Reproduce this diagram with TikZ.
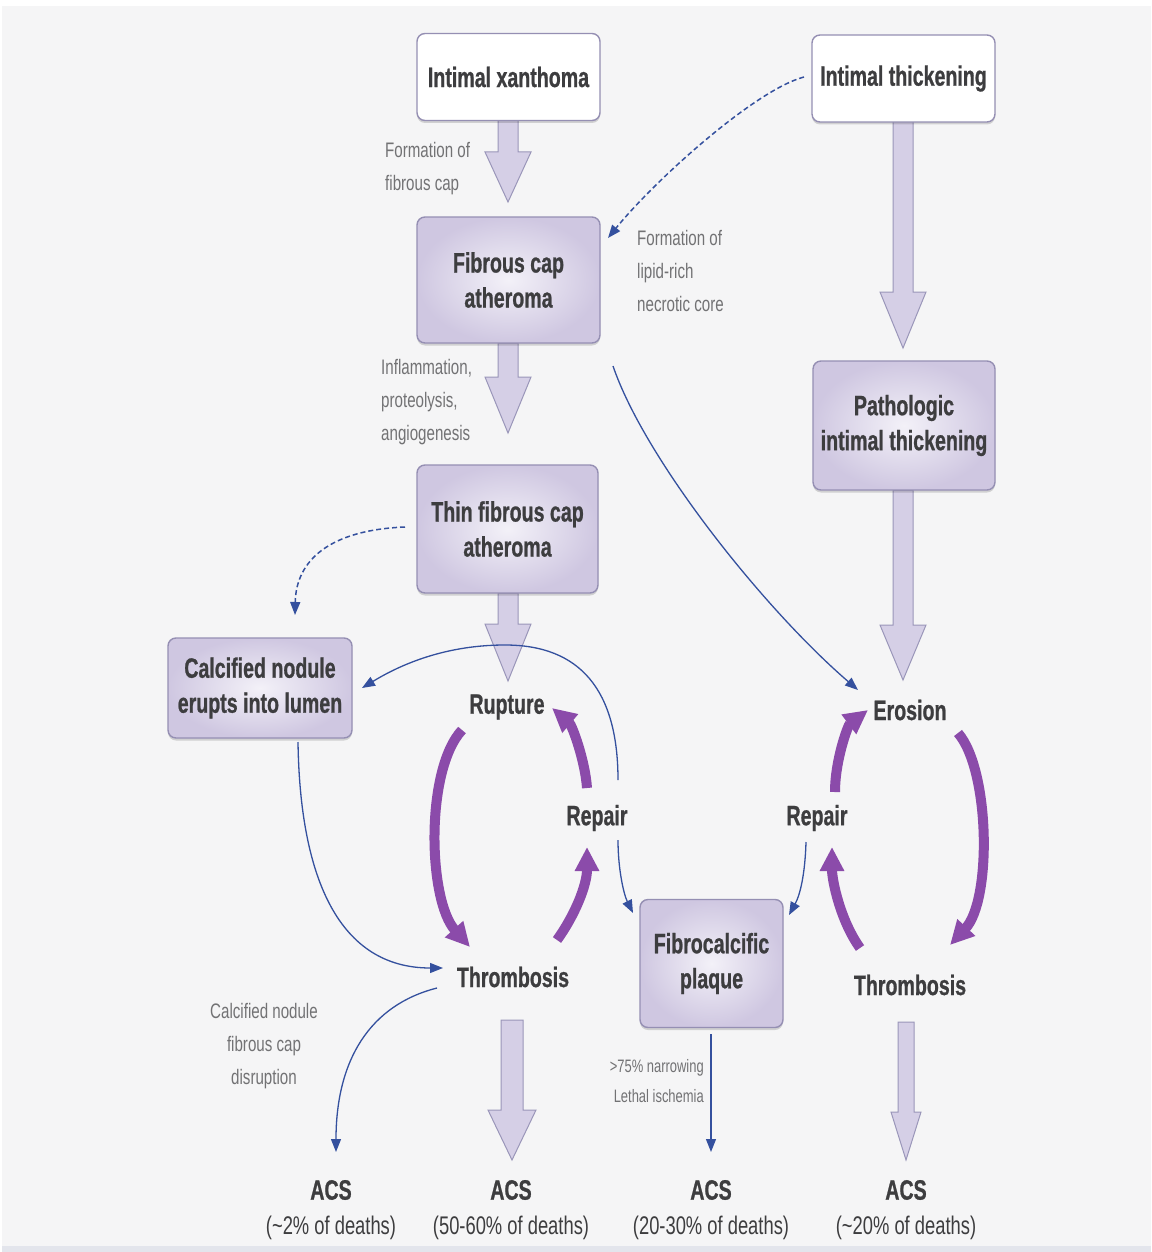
\documentclass[tikz,border=0pt]{standalone}
\usepackage{fontspec}
\setmainfont{Liberation Sans}
\newfontfamily\hdrfont{Liberation Sans}[FakeStretch=0.70, BoldFeatures={FakeBold=0.8}]
\newfontfamily\lblfont{Liberation Sans}[FakeStretch=0.72]
\usetikzlibrary{arrows.meta,shadows}

\definecolor{pagebg}{HTML}{F5F5F6}
\definecolor{bottomband}{HTML}{E3E5EC}
\definecolor{boxline}{HTML}{958FB3}
\definecolor{boxfill}{HTML}{CFC7E1}
\definecolor{boxlight}{HTML}{F3F1F8}
\definecolor{blockfill}{HTML}{D5CFE6}
\definecolor{blockline}{HTML}{9A96B9}
\definecolor{linkblue}{HTML}{34509E}
\definecolor{cyc}{HTML}{8B4BAA}
\definecolor{darktext}{HTML}{3D3D3F}
\definecolor{graytext}{HTML}{727274}

% hollow downward block arrow: x, shaft top, head base, tip, shaft half width, head half width
\newcommand{\hollowdown}[6]{%
  \draw[block] (#1-#5,#2) -- (#1+#5,#2) -- (#1+#5,#3) -- (#1+#6,#3) -- (#1,#4)
    -- (#1-#6,#3) -- (#1-#5,#3) -- cycle;}

\begin{document}
\begin{tikzpicture}[x=1pt,y=-1pt,
  stage/.style={draw=boxline, line width=1.4pt, rounded corners=8pt, align=center,
    text=darktext, inner sep=0pt,
    font=\hdrfont\bfseries\fontsize{28}{35}\selectfont,
    drop shadow={shadow xshift=0pt, shadow yshift=-2.5pt, fill=black, opacity=0.15}},
  shadedstage/.style={stage, inner color=boxlight, outer color=boxfill},
  plainstage/.style={stage, fill=white},
  word/.style={text=darktext, inner sep=1pt,
    font=\hdrfont\bfseries\fontsize{28}{32}\selectfont},
  note/.style={text=graytext, inner sep=0pt, align=left,
    font=\lblfont\fontsize{21}{33}\selectfont},
  share/.style={text=darktext, inner sep=0pt,
    font=\lblfont\fontsize{25.5}{28}\selectfont},
  link/.style={draw=linkblue, line width=1.3pt,
    -{Triangle[length=13pt,width=10pt]}},
  turn/.style={draw=cyc, line width=10pt,
    -{Triangle[length=24pt,width=23pt]}},
  block/.style={fill=blockfill, draw=blockline, line width=1pt, line join=miter}]

% page
\useasboundingbox (0,0) rectangle (1151,1252);
\fill[white] (0,0) rectangle (1151,1252);
\fill[pagebg] (2,6) rectangle (1151,1246);
\fill[bottomband] (2,1246) rectangle (1151,1252);

% hollow progression arrows
\hollowdown{508}{120}{152}{202}{10}{23}
\hollowdown{508}{343}{377}{433}{10}{23}
\hollowdown{508}{593}{624}{681}{10}{23}
\hollowdown{903}{121}{292}{348}{10}{23}
\hollowdown{903}{490}{625}{680}{10}{23}
\hollowdown{512}{1020}{1110}{1160}{11}{24}
\hollowdown{906}{1022}{1112}{1160}{8}{15}

% stages
\node[plainstage, minimum width=183pt, minimum height=87pt] (xan) at (508.5,77) {Intimal xanthoma};
\node[plainstage, minimum width=183pt, minimum height=87pt] (thk) at (903.5,78.5) {Intimal thickening};
\node[shadedstage, minimum width=183pt, minimum height=126pt] (fca) at (508.5,280) {Fibrous cap\\atheroma};
\node[shadedstage, minimum width=181pt, minimum height=128pt] (tfca) at (507.5,529) {Thin fibrous cap\\atheroma};
\node[shadedstage, minimum width=184pt, minimum height=100pt] (cal) at (260,688) {Calcified nodule\\erupts into lumen};
\node[shadedstage, minimum width=182pt, minimum height=129pt] (pit) at (904,425.5) {Pathologic\\intimal thickening};
\node[shadedstage, minimum width=143pt, minimum height=128pt] (fcp) at (711.5,963.5) {Fibrocalcific\\plaque};

% events
\node[word] (rup) at (507,707) {Rupture};
\node[word] (repL) at (597,818) {Repair};
\node[word] (thrL) at (513,977) {Thrombosis};
\node[word] (ero) at (910,710) {Erosion};
\node[word] (repR) at (817,818) {Repair};
\node[word] (thrR) at (910,985) {Thrombosis};

% outcomes
\node[word] (acsA) at (331,1190) {ACS};
\node[word] (acsB) at (511,1190) {ACS};
\node[word] (acsC) at (711,1190) {ACS};
\node[word] (acsD) at (906,1190) {ACS};
\node[share] (shA) at (331,1228) {(\textasciitilde2\% of deaths)};
\node[share] (shB) at (511,1228) {(50-60\% of deaths)};
\node[share] (shC) at (711,1228) {(20-30\% of deaths)};
\node[share] (shD) at (906,1228) {(\textasciitilde20\% of deaths)};

% process notes
\node[note, anchor=west] (n1) at (385,169) {Formation of\\fibrous cap};
\node[note, anchor=west] (n2) at (637,271) {Formation of\\lipid-rich\\necrotic core};
\node[note, anchor=west] (n3) at (381,402) {Inflammation,\\proteolysis,\\angiogenesis};
\node[note, align=center] (n4) at (264,1046) {Calcified nodule\\fibrous cap\\disruption};
\node[note, align=right, anchor=east, font=\lblfont\fontsize{18}{30}\selectfont] (n5) at (704,1081) {>75\% narrowing\\Lethal ischemia};

% connector end points
\coordinate (thkOut) at (804,77);
\coordinate (fcaIn) at (608,238);
\coordinate (tfcaOut) at (405,527);
\coordinate (calIn) at (295,615);
\coordinate (fcaTail) at (613,366);
\coordinate (eroIn) at (858,690);
\coordinate (rupTop) at (505,645);
\coordinate (calSide) at (362,688);
\coordinate (repLTop) at (618,780);
\coordinate (repLBot) at (618,840);
\coordinate (fcpInL) at (633,913);
\coordinate (repRBot) at (806,842);
\coordinate (fcpInR) at (789,915);
\coordinate (calBot) at (298,742);
\coordinate (thrLIn) at (443,968);
\coordinate (thrLOut) at (437,988);
\coordinate (acsAIn) at (336,1152);
\coordinate (fcpBot) at (711,1034);
\coordinate (acsCIn) at (711,1152);

% thin connectors
\draw[link, line width=1.5pt, dash pattern=on 5pt off 3pt] (thkOut) .. controls (755,90) and (655,180) .. (fcaIn);
\draw[link, line width=1.5pt, dash pattern=on 5pt off 3pt] (tfcaOut) .. controls (330,530) and (296,560) .. (calIn);
\draw[link] (fcaTail) .. controls (645,460) and (765,610) .. (eroIn);
\draw[link] (repLTop) .. controls (618,690) and (580,645) .. (rupTop)
  .. controls (440,645) and (395,668) .. (calSide);
\draw[link] (repLBot) .. controls (618,870) and (624,895) .. (fcpInL);
\draw[link] (repRBot) .. controls (805,875) and (800,895) .. (fcpInR);
\draw[link] (calBot) .. controls (300,880) and (340,968) .. (thrLIn);
\draw[link] (thrLOut) .. controls (370,1005) and (336,1060) .. (acsAIn);
\draw[link] (fcpBot) -- (acsCIn);

% rupture cycle
\draw[turn] (462,730) .. controls (425,770) and (428,900) .. (470,947);
\draw[turn] (557,940) .. controls (575,915) and (587,885) .. (587,847);
\draw[turn] (587,788) .. controls (585,760) and (572,725) .. (552,708);

% erosion cycle
\draw[turn] (958,733) .. controls (990,770) and (992,900) .. (950,945);
\draw[turn] (835,792) .. controls (835,760) and (848,725) .. (868,710);
\draw[turn] (860,948) .. controls (840,920) and (832,880) .. (832,847);
\end{tikzpicture}
\end{document}
